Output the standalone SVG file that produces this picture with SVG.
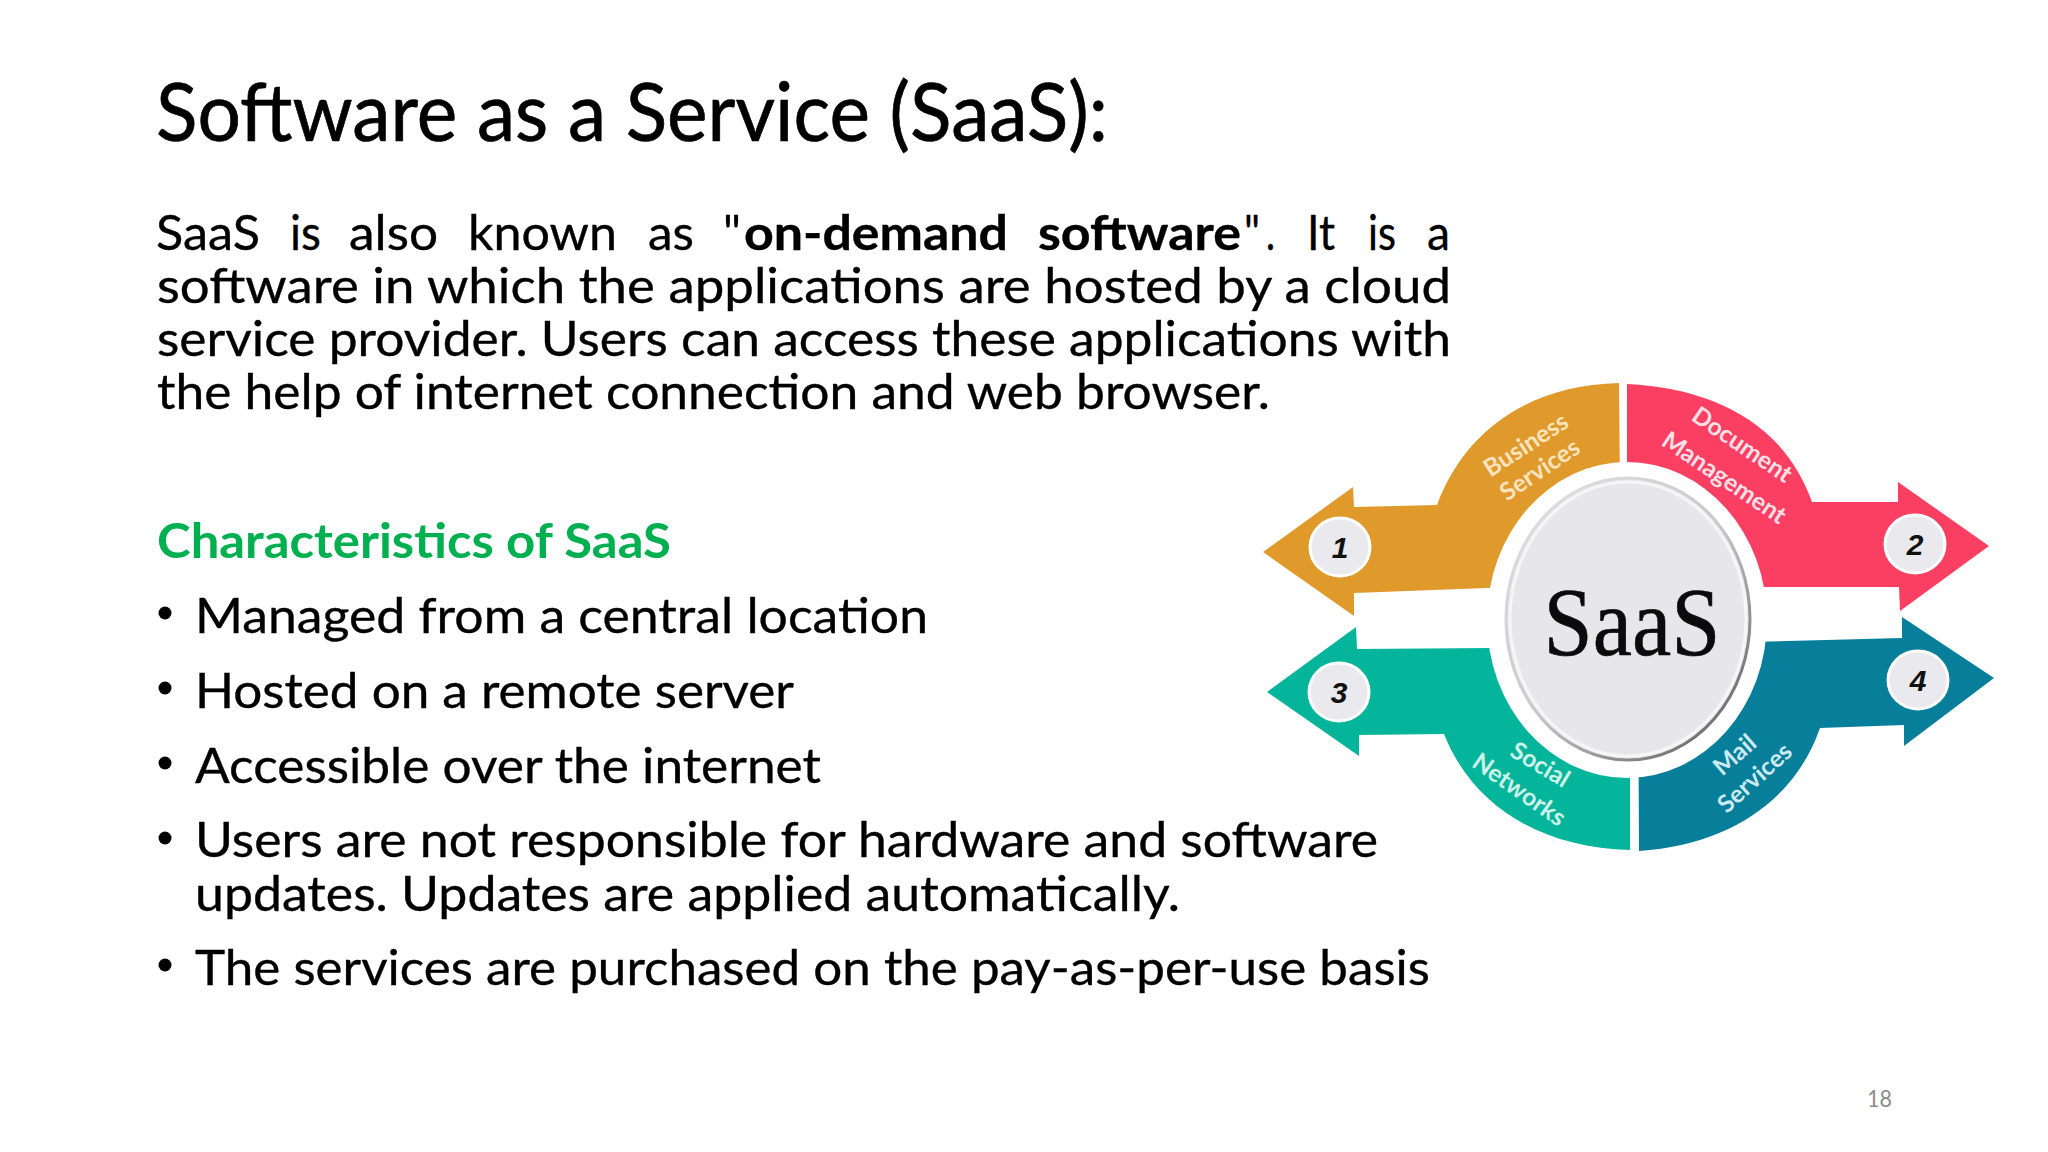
<svg xmlns="http://www.w3.org/2000/svg" width="2048" height="1152" viewBox="0 0 2048 1152">
<defs>
<style>
.t{font-family:"Lato","Carlito","Open Sans",sans-serif;fill:#000;stroke:#000;stroke-width:.35px}
.b{font-size:48px}
.lab{font-family:"Lato","Open Sans",sans-serif;font-weight:700;font-size:24.5px;text-anchor:middle}
.num{font-family:"Liberation Sans",sans-serif;font-weight:700;font-style:italic;font-size:30px;fill:#111;text-anchor:middle}
.disc{fill:#e9e9ee;stroke:#fff;stroke-width:3}
</style>
<linearGradient id="rim" x1="0.15" y1="0.1" x2="0.85" y2="0.9">
<stop offset="0" stop-color="#dcdcdc"/><stop offset="0.5" stop-color="#c8c8c8"/><stop offset="1" stop-color="#6f6f6f"/>
</linearGradient>
</defs>
<rect width="2048" height="1152" fill="#fff"/>
<g id="title"><text class="t" x="156" y="141" font-size="82" textLength="952" lengthAdjust="spacingAndGlyphs" style="stroke-width:.7px">Software as a Service (SaaS):</text></g>
<g id="intro">
<text class="t b" y="250">
<tspan x="156" textLength="104" lengthAdjust="spacingAndGlyphs">SaaS</tspan>
<tspan x="290" textLength="31" lengthAdjust="spacingAndGlyphs">is</tspan>
<tspan x="349" textLength="89" lengthAdjust="spacingAndGlyphs">also</tspan>
<tspan x="468" textLength="149" lengthAdjust="spacingAndGlyphs">known</tspan>
<tspan x="648" textLength="46" lengthAdjust="spacingAndGlyphs">as</tspan>
<tspan x="723" textLength="18" lengthAdjust="spacingAndGlyphs">"</tspan>
<tspan x="744" font-weight="700" textLength="264" lengthAdjust="spacingAndGlyphs">on-demand</tspan>
<tspan x="1038" font-weight="700" textLength="203" lengthAdjust="spacingAndGlyphs">software</tspan>
<tspan x="1244" textLength="16" lengthAdjust="spacingAndGlyphs">"</tspan>
<tspan x="1266" textLength="9" lengthAdjust="spacingAndGlyphs">.</tspan>
<tspan x="1307" textLength="28" lengthAdjust="spacingAndGlyphs">It</tspan>
<tspan x="1368" textLength="28" lengthAdjust="spacingAndGlyphs">is</tspan>
<tspan x="1427" textLength="23" lengthAdjust="spacingAndGlyphs">a</tspan>
</text>
<text class="t b" x="157" y="303" textLength="1294" lengthAdjust="spacingAndGlyphs">software in which the applications are hosted by a cloud</text>
<text class="t b" x="157" y="356" textLength="1294" lengthAdjust="spacingAndGlyphs">service provider. Users can access these applications with</text>
<text class="t b" x="157" y="409" textLength="1113" lengthAdjust="spacingAndGlyphs">the help of internet connection and web browser.</text>
</g>
<g id="characteristics">
<text class="t b" x="157" y="558" font-weight="700" style="fill:#00b050;stroke:none" textLength="514" lengthAdjust="spacingAndGlyphs">Characteristics of SaaS</text>
<circle cx="165" cy="613" r="6.5"/><circle cx="165" cy="688" r="6.5"/><circle cx="165" cy="763" r="6.5"/><circle cx="165" cy="838" r="6.5"/><circle cx="165" cy="965" r="6.5"/>
<text class="t b" x="195" y="633" textLength="733" lengthAdjust="spacingAndGlyphs">Managed from a central location</text>
<text class="t b" x="195" y="708" textLength="599" lengthAdjust="spacingAndGlyphs">Hosted on a remote server</text>
<text class="t b" x="195" y="783" textLength="626" lengthAdjust="spacingAndGlyphs">Accessible over the internet</text>
<text class="t b" x="195" y="857" textLength="1183" lengthAdjust="spacingAndGlyphs">Users are not responsible for hardware and software</text>
<text class="t b" x="195" y="911" textLength="985" lengthAdjust="spacingAndGlyphs">updates. Updates are applied automatically.</text>
<text class="t b" x="195" y="985" textLength="1235" lengthAdjust="spacingAndGlyphs">The services are purchased on the pay-as-per-use basis</text>
</g>
<g id="arrow-1-business">
<path fill="#e09a2c" d="M1263,552 L1353,487 L1354,507 L1437,505 C1465,430 1530,385 1619,383 L1621,588 L1487,588 L1354,593 L1354,616 Z"/>
</g>
<g id="arrow-2-document">
<path fill="#fb3f63" d="M1627,384 C1715,388 1785,425 1812,502 L1898,502 L1898,482 L1989,546 L1900,611 L1899,587 L1627,587 Z"/>
</g>
<g id="arrow-3-social">
<path fill="#05b59b" d="M1267,692 L1356,627 L1357,649 L1630,647 L1630,850 C1540,848 1472,805 1444,734 L1359,735 L1359,756 Z"/>
</g>
<g id="arrow-4-mail">
<path fill="#077f9b" d="M1994,678 L1902,617 L1902,638 L1638,645 L1639,851 C1730,845 1795,800 1820,728 L1904,725 L1904,746 Z"/>
</g>
<g id="hub">
<ellipse cx="1627" cy="620" rx="140" ry="158" fill="#fff"/>
<ellipse cx="1628" cy="619" rx="122" ry="141" fill="#e7e7e9" stroke="url(#rim)" stroke-width="3"/>
<ellipse cx="1628" cy="619" rx="118" ry="137" fill="none" stroke="#f6f6f6" stroke-width="3"/>
<text x="1632" y="655" text-anchor="middle" font-family="Liberation Serif, serif" font-size="97" fill="#0b0b0b" stroke="#0b0b0b" stroke-width=".6" textLength="177" lengthAdjust="spacingAndGlyphs">SaaS</text>
</g>
<g id="label-1"><ellipse class="disc" cx="1340" cy="547" rx="30" ry="29"/><text class="num" x="1340" y="558">1</text>
<text class="lab" fill="#fbe3bd" x="1526" y="453" transform="rotate(-33 1526 445)">Business</text><text class="lab" fill="#fbe3bd" x="1540" y="478" transform="rotate(-34 1540 470)">Services</text></g>
<g id="label-2"><ellipse class="disc" cx="1915" cy="544" rx="30" ry="29"/><text class="num" x="1915" y="555">2</text>
<text class="lab" fill="#ffdfe3" x="1742" y="453" transform="rotate(34 1742 445)">Document</text><text class="lab" fill="#ffdfe3" x="1724" y="486" transform="rotate(34 1724 478)">Management</text></g>
<g id="label-3"><ellipse class="disc" cx="1339" cy="692" rx="30" ry="29"/><text class="num" x="1339" y="703">3</text>
<text class="lab" fill="#cdf3ea" x="1540" y="773" transform="rotate(31 1540 765)">Social</text><text class="lab" fill="#cdf3ea" x="1519" y="798" transform="rotate(35 1519 790)">Networks</text></g>
<g id="label-4"><ellipse class="disc" cx="1918" cy="680" rx="30" ry="29"/><text class="num" x="1918" y="691">4</text>
<text class="lab" fill="#cdeaf2" x="1735" y="763" transform="rotate(-41 1735 755)">Mail</text><text class="lab" fill="#cdeaf2" x="1755" y="786" transform="rotate(-42 1755 778)">Services</text></g>
<g id="page-number"><text x="1867" y="1107" font-family="Lato, sans-serif" font-size="24" fill="#8c8c8c" textLength="25" lengthAdjust="spacingAndGlyphs">18</text></g>
</svg>
